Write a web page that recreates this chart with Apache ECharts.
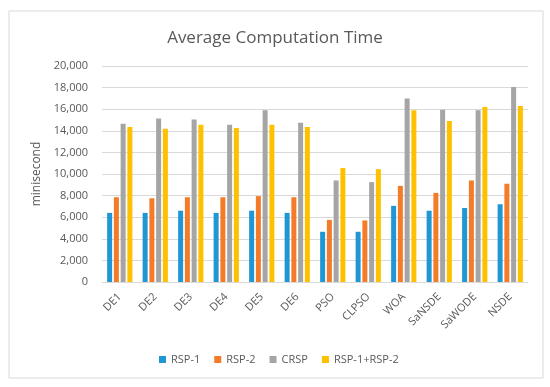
<!DOCTYPE html>
<html><head><meta charset="utf-8">
<script src="https://cdn.jsdelivr.net/npm/echarts@6/dist/echarts.min.js"></script>
<style>html,body{margin:0;padding:0;background:#fff}#c{width:550px;height:387px}</style>
</head><body><div id="c"></div>
<script>
const categories = ['DE1','DE2','DE3','DE4','DE5','DE6','PSO','CLPSO','WOA','SaNSDE','SaWODE','NSDE'];
const rsp1 = [6400, 6400, 6600, 6400, 6600, 6400, 4650, 4650, 7050, 6600, 6850, 7200];
const rsp2 = [7850, 7750, 7850, 7850, 7950, 7850, 5750, 5700, 8900, 8250, 9400, 9100];
const crsp = [14650, 15150, 15050, 14550, 15900, 14750, 9400, 9250, 17000, 15950, 15900, 18050];
const both = [14350, 14200, 14550, 14250, 14550, 14350, 10550, 10450, 15900, 14900, 16200, 16300];
const seriesNames = ['RSP-1','RSP-2','CRSP','RSP-1+RSP-2'];
const colors = ['#1f97d5','#f47b27','#a5a5a5','#ffc000'];
const font = 'Open Sans';
const chart = echarts.init(document.getElementById('c'));
const data = [rsp1, rsp2, crsp, both];
chart.setOption({
  animation: false,
  graphic: [{type:'rect', shape:{x:9,y:11,width:534,height:367}, style:{fill:'none', stroke:'#d9d9d9', lineWidth:1}, z:-1}],
  title: {text:'Average Computation Time', left:'center', top:25,
    textStyle:{fontFamily:font, fontSize:17, fontWeight:'normal', color:'#595959'}},
  grid: {left:102, right:22, top:66, bottom:105},
  legend: {top:349, left:154, itemWidth:7, itemHeight:7, itemGap:14, icon:'rect',
    textStyle:{fontFamily:font, fontSize:11, color:'#595959'}, data: seriesNames},
  xAxis: {type:'category', data:categories,
    axisLine:{lineStyle:{color:'#d9d9d9'}}, axisTick:{show:false},
    axisLabel:{rotate:45, fontFamily:font, fontSize:11, color:'#595959', margin:13, interval:0}},
  yAxis: {type:'value', min:0, max:20000, interval:2000, name:'minisecond', nameLocation:'middle', nameGap:52,
    nameTextStyle:{fontFamily:font, fontSize:12, color:'#595959'},
    axisLine:{show:false}, axisTick:{show:false},
    splitLine:{lineStyle:{color:'#d9d9d9'}},
    axisLabel:{fontFamily:font, fontSize:11, color:'#595959', margin:14,
      formatter:v=>v.toLocaleString('en-US')}},
  series: seriesNames.map((n,i)=>({name:n, type:'bar', data:data[i], barWidth:5, barGap:'35%',
    itemStyle:{color:colors[i]}}))
});
</script></body></html>
